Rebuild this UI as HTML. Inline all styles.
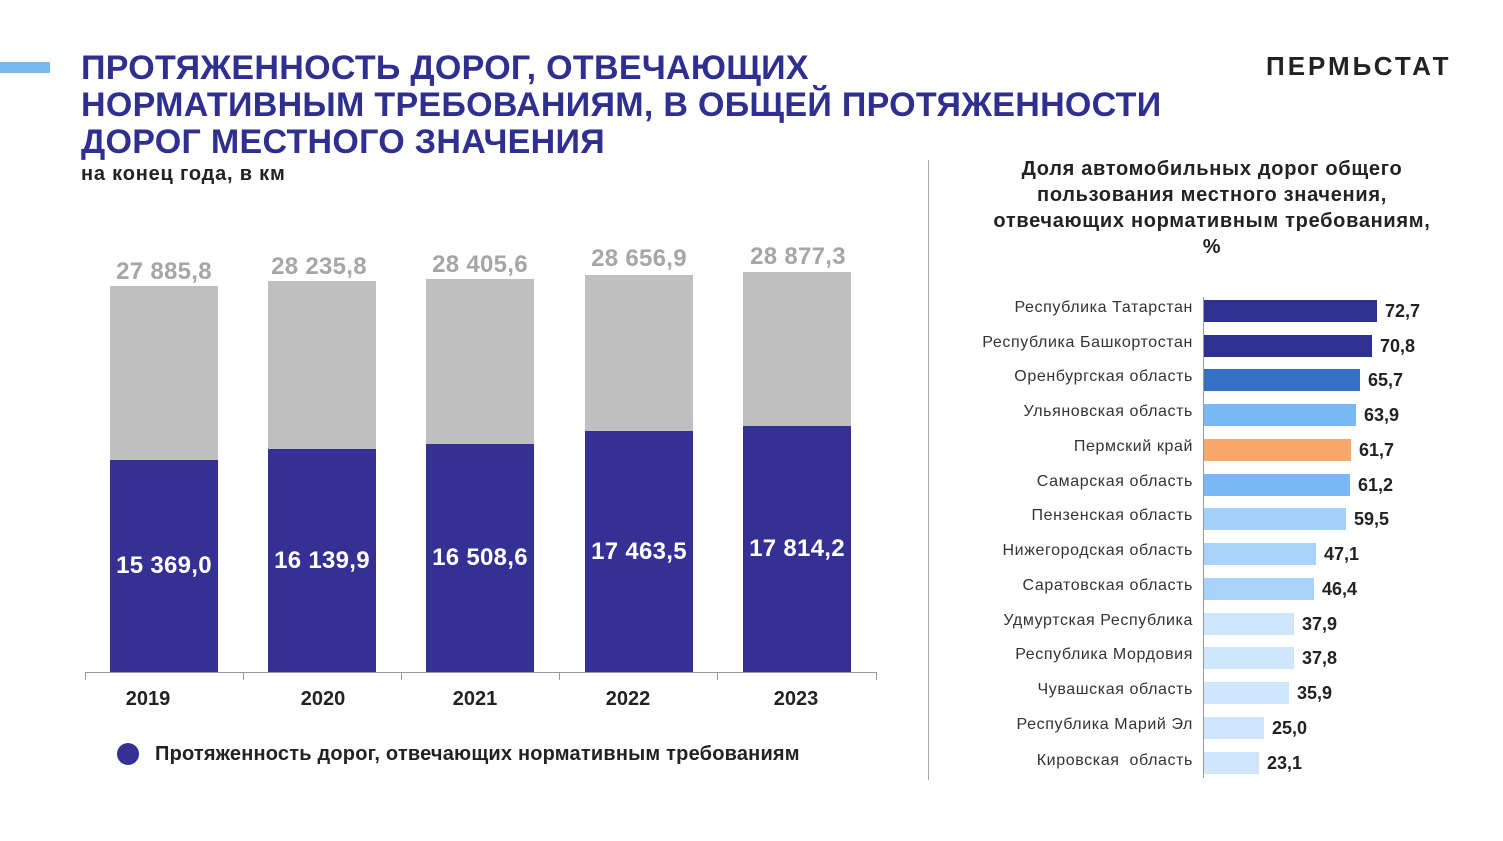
<!DOCTYPE html>
<html><head><meta charset="utf-8"><style>
body{margin:0;width:1503px;height:841px;background:#fff;overflow:hidden;position:relative;font-family:"Liberation Sans","Noto Sans CJK SC",sans-serif}
.a{position:absolute;white-space:nowrap}
.t{color:#2e2f8f;font-weight:bold;font-size:34px;left:81px;line-height:37px;letter-spacing:0.3px}
.bar{position:absolute}
.gl{color:#a6a6a6;font-weight:bold;font-size:24px;text-align:center;width:140px;letter-spacing:0.3px}
.wl{color:#fff;font-weight:bold;font-size:24px;text-align:center;width:140px;letter-spacing:0.3px}
.yr{font-weight:bold;font-size:20px;color:#222;text-align:center;width:100px}
.rl{font-size:16px;color:#333;right:310px;text-align:right;letter-spacing:0.6px}
.rv{font-weight:bold;font-size:18px;color:#222}
</style></head><body>
<div class="bar" style="left:0;top:62px;width:50px;height:11px;background:#7ab8f0"></div>
<div class="a t" style="top:50px">ПРОТЯЖЕННОСТЬ ДОРОГ, ОТВЕЧАЮЩИХ<br>НОРМАТИВНЫМ ТРЕБОВАНИЯМ, В ОБЩЕЙ ПРОТЯЖЕННОСТИ<br>ДОРОГ МЕСТНОГО ЗНАЧЕНИЯ</div>
<div class="a" style="left:81px;top:163px;font-size:20px;font-weight:bold;color:#222;letter-spacing:0.8px">на конец года, в км</div>
<div class="a" style="left:1266px;top:51px;font-size:26px;font-weight:bold;color:#222;letter-spacing:3px">ПЕРМЬСТАТ</div>

<div class="bar" style="left:110px;top:286px;width:108px;height:174px;background:#bfbfbf"></div>
<div class="bar" style="left:110px;top:460px;width:108px;height:212px;background:#353194"></div>
<div class="bar" style="left:268px;top:281px;width:108px;height:168px;background:#bfbfbf"></div>
<div class="bar" style="left:268px;top:449px;width:108px;height:223px;background:#353194"></div>
<div class="bar" style="left:426px;top:279px;width:108px;height:165px;background:#bfbfbf"></div>
<div class="bar" style="left:426px;top:444px;width:108px;height:228px;background:#353194"></div>
<div class="bar" style="left:585px;top:275px;width:108px;height:156px;background:#bfbfbf"></div>
<div class="bar" style="left:585px;top:431px;width:108px;height:241px;background:#353194"></div>
<div class="bar" style="left:743px;top:272px;width:108px;height:154px;background:#bfbfbf"></div>
<div class="bar" style="left:743px;top:426px;width:108px;height:246px;background:#353194"></div>

<div class="a gl" style="left:94px;top:258px">27 885,8</div>
<div class="a gl" style="left:249px;top:253px">28 235,8</div>
<div class="a gl" style="left:410px;top:251px">28 405,6</div>
<div class="a gl" style="left:569px;top:245px">28 656,9</div>
<div class="a gl" style="left:728px;top:243px">28 877,3</div>

<div class="a wl" style="left:94px;top:552px">15 369,0</div>
<div class="a wl" style="left:252px;top:547px">16 139,9</div>
<div class="a wl" style="left:410px;top:544px">16 508,6</div>
<div class="a wl" style="left:569px;top:538px">17 463,5</div>
<div class="a wl" style="left:727px;top:535px">17 814,2</div>

<svg class="a" style="left:0;top:0" width="930" height="841">
<line x1="85" y1="672.5" x2="876" y2="672.5" stroke="#999"/>
<g stroke="#999"><line x1="85.5" y1="672" x2="85.5" y2="680"/><line x1="243.5" y1="672" x2="243.5" y2="680"/><line x1="401.5" y1="672" x2="401.5" y2="680"/><line x1="559.5" y1="672" x2="559.5" y2="680"/><line x1="717.5" y1="672" x2="717.5" y2="680"/><line x1="876.5" y1="672" x2="876.5" y2="680"/></g>
<circle cx="128" cy="754" r="11" fill="#353194"/>
<line x1="928.5" y1="160" x2="928.5" y2="780" stroke="#aaa"/>
</svg>
<div class="a yr" style="left:98px;top:688px">2019</div>
<div class="a yr" style="left:273px;top:688px">2020</div>
<div class="a yr" style="left:425px;top:688px">2021</div>
<div class="a yr" style="left:578px;top:688px">2022</div>
<div class="a yr" style="left:746px;top:688px">2023</div>
<div class="a" style="left:155px;top:743px;font-size:20px;font-weight:bold;color:#222;letter-spacing:0.2px">Протяженность дорог, отвечающих нормативным требованиям</div>

<div class="a" style="left:962px;top:156px;width:500px;text-align:center;font-size:20px;font-weight:bold;color:#222;line-height:26px;letter-spacing:0.7px">Доля автомобильных дорог общего<br>пользования местного значения,<br>отвечающих нормативным требованиям,<br>%</div>

<div class="bar" style="left:1203px;top:297px;width:1px;height:481px;background:#999"></div>

<div class="bar" style="left:1204px;top:300px;width:173px;height:22px;background:#2e3192"></div><div class="a rl" style="top:299px">Республика Татарстан</div><div class="a rv" style="left:1385px;top:301px">72,7</div>
<div class="bar" style="left:1204px;top:335px;width:168px;height:22px;background:#2e3192"></div><div class="a rl" style="top:334px">Республика Башкортостан</div><div class="a rv" style="left:1380px;top:336px">70,8</div>
<div class="bar" style="left:1204px;top:369px;width:156px;height:22px;background:#3571c4"></div><div class="a rl" style="top:368px">Оренбургская область</div><div class="a rv" style="left:1368px;top:370px">65,7</div>
<div class="bar" style="left:1204px;top:404px;width:152px;height:22px;background:#7ab8f5"></div><div class="a rl" style="top:403px">Ульяновская область</div><div class="a rv" style="left:1364px;top:405px">63,9</div>
<div class="bar" style="left:1204px;top:439px;width:147px;height:22px;background:#f9a86b"></div><div class="a rl" style="top:438px">Пермский край</div><div class="a rv" style="left:1359px;top:440px">61,7</div>
<div class="bar" style="left:1204px;top:474px;width:146px;height:22px;background:#7ab8f5"></div><div class="a rl" style="top:473px">Самарская область</div><div class="a rv" style="left:1358px;top:475px">61,2</div>
<div class="bar" style="left:1204px;top:508px;width:142px;height:22px;background:#a3d1fa"></div><div class="a rl" style="top:507px">Пензенская область</div><div class="a rv" style="left:1354px;top:509px">59,5</div>
<div class="bar" style="left:1204px;top:543px;width:112px;height:22px;background:#a8d3fa"></div><div class="a rl" style="top:542px">Нижегородская область</div><div class="a rv" style="left:1324px;top:544px">47,1</div>
<div class="bar" style="left:1204px;top:578px;width:110px;height:22px;background:#a8d3fa"></div><div class="a rl" style="top:577px">Саратовская область</div><div class="a rv" style="left:1322px;top:579px">46,4</div>
<div class="bar" style="left:1204px;top:613px;width:90px;height:22px;background:#cfe7fc"></div><div class="a rl" style="top:612px">Удмуртская Республика</div><div class="a rv" style="left:1302px;top:614px">37,9</div>
<div class="bar" style="left:1204px;top:647px;width:90px;height:22px;background:#cfe7fc"></div><div class="a rl" style="top:646px">Республика Мордовия</div><div class="a rv" style="left:1302px;top:648px">37,8</div>
<div class="bar" style="left:1204px;top:682px;width:85px;height:22px;background:#cfe7fc"></div><div class="a rl" style="top:681px">Чувашская область</div><div class="a rv" style="left:1297px;top:683px">35,9</div>
<div class="bar" style="left:1204px;top:717px;width:60px;height:22px;background:#cfe7fc"></div><div class="a rl" style="top:716px">Республика Марий Эл</div><div class="a rv" style="left:1272px;top:718px">25,0</div>
<div class="bar" style="left:1204px;top:752px;width:55px;height:22px;background:#cfe7fc"></div><div class="a rl" style="top:752px">Кировская&nbsp; область</div><div class="a rv" style="left:1267px;top:753px">23,1</div>
</body></html>
